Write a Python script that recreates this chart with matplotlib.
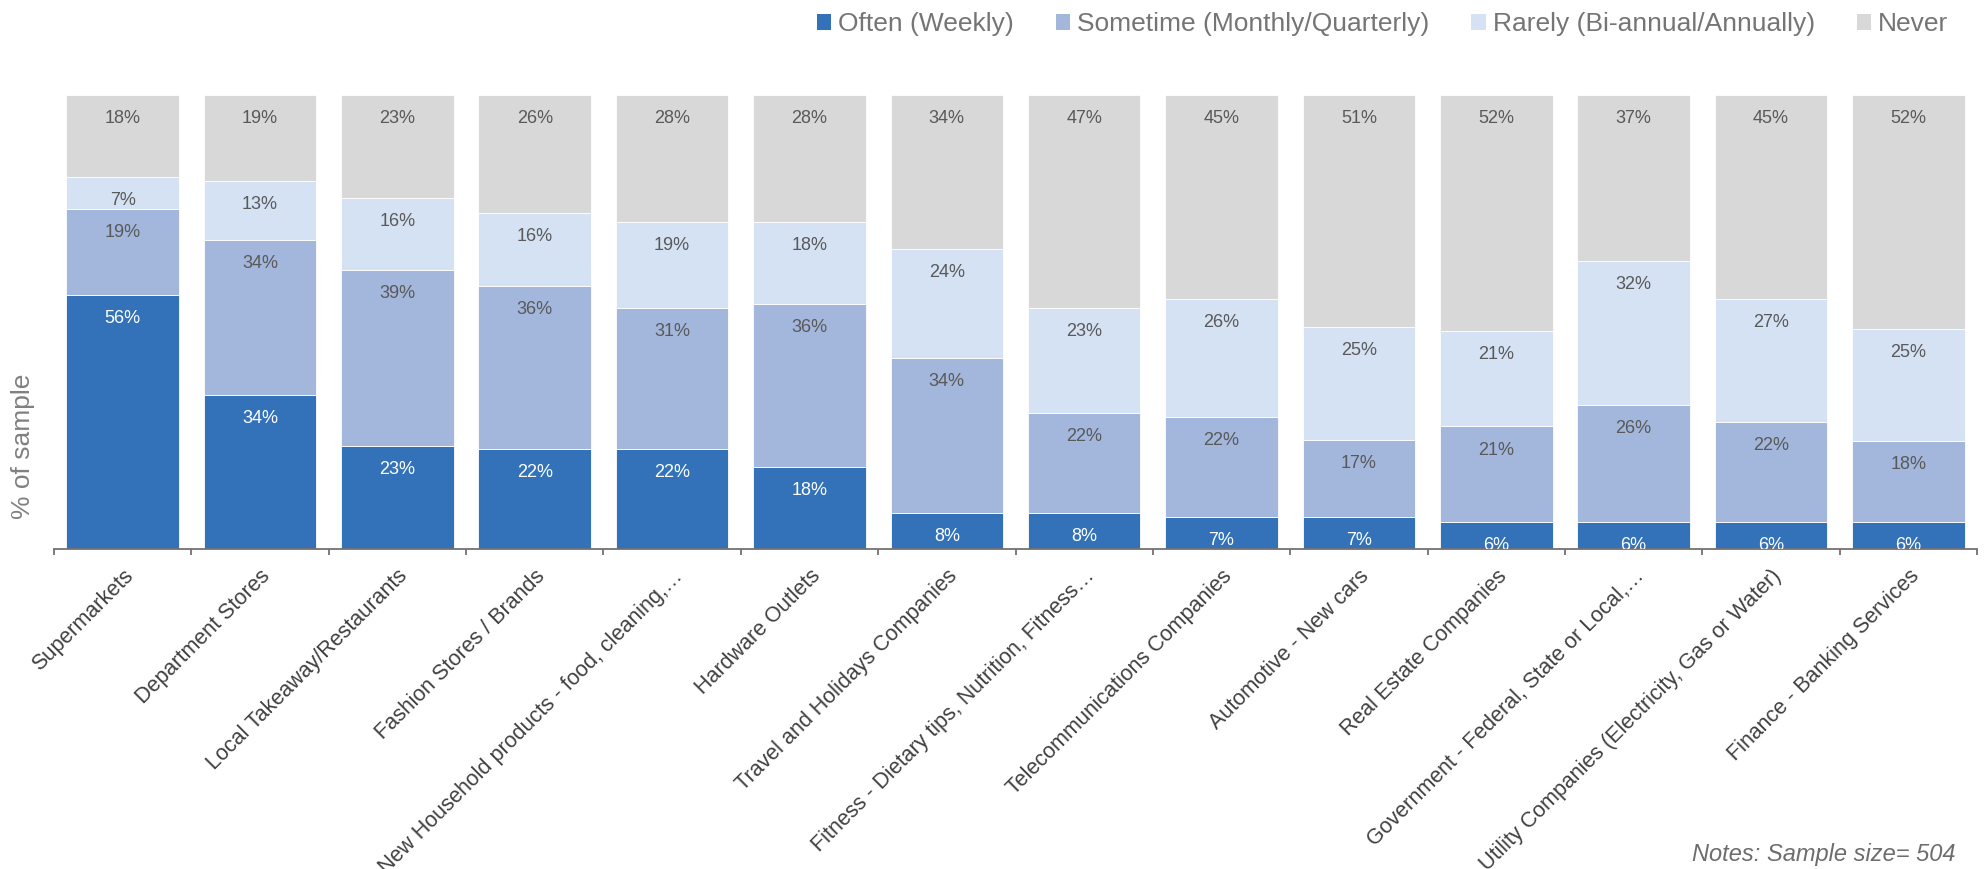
import numpy as np
import matplotlib.pyplot as plt
from matplotlib.transforms import offset_copy
from matplotlib.patches import Patch

plt.rcParams['font.family'] = ['Liberation Sans', 'DejaVu Sans']

cats = ['Supermarkets', 'Department Stores', 'Local Takeaway/Restaurants',
        'Fashion Stores / Brands', 'New Household products - food, cleaning,\u2026',
        'Hardware Outlets', 'Travel and Holidays Companies',
        'Fitness - Dietary tips, Nutrition, Fitness\u2026',
        'Telecommunications Companies', 'Automotive - New cars',
        'Real Estate Companies', 'Government - Federal, State or Local,\u2026',
        'Utility Companies (Electricity, Gas or Water)', 'Finance - Banking Services']

often = [56, 34, 23, 22, 22, 18, 8, 8, 7, 7, 6, 6, 6, 6]
sometime = [19, 34, 39, 36, 31, 36, 34, 22, 22, 17, 21, 26, 22, 18]
rarely = [7, 13, 16, 16, 19, 18, 24, 23, 26, 25, 21, 32, 27, 25]
never = [18, 19, 23, 26, 28, 28, 34, 47, 45, 51, 52, 37, 45, 52]

names = ['Often (Weekly)', 'Sometime (Monthly/Quarterly)',
         'Rarely (Bi-annual/Annually)', 'Never']
colors = ['#3372b8', '#a3b6dc', '#d5e2f3', '#d8d8d8']
txt_colors = ['white', '#595959', '#595959', '#595959']

fig = plt.figure(figsize=(19.84, 8.69), dpi=100)
ax = fig.add_axes([54/1984, 320/869, (1977-54)/1984, 454/869])

x = np.arange(len(cats))
totals = np.array(often) + np.array(sometime) + np.array(rarely) + np.array(never)
# labels sit a bit below the top of each segment (inside end)
lbl_tr = offset_copy(ax.transData, fig=fig, y=-17, units='points')

bottom = np.zeros(len(cats))
for vals, col, tcol in zip([often, sometime, rarely, never], colors, txt_colors):
    vals = np.array(vals, float)
    h = vals / totals * 100
    ax.bar(x, h, 0.82, bottom=bottom, color=col, edgecolor='white', linewidth=0.6)
    top = bottom + h
    for xi, yi, v in zip(x, top, vals):
        ax.text(xi, yi, '%d%%' % v, transform=lbl_tr, ha='center', va='center',
                fontsize=13, color=tcol, clip_on=True)
    bottom = top

ax.set_xlim(-0.5, len(cats) - 0.5)
ax.set_ylim(0, 100)
for s in ['left', 'right', 'top']:
    ax.spines[s].set_visible(False)
ax.spines['bottom'].set_color('#767171')
ax.spines['bottom'].set_linewidth(1.3)
ax.set_yticks([])

ax.set_xticks(x)
ax.set_xticklabels(cats, rotation=45, ha='right', va='top', rotation_mode='anchor',
                   fontsize=15.5, color='#404040')
ax.set_xticks(np.arange(len(cats) + 1) - 0.5, minor=True)
ax.tick_params(axis='x', which='major', length=0, pad=12)
ax.tick_params(axis='x', which='minor', length=4, width=1.3, color='#767171', direction='out')

fig.text(23/1984, 1 - 446/869, '% of sample', rotation=90, ha='center', va='center',
         fontsize=19, color='#808080')
fig.text(1955/1984, 1 - 854/869, 'Notes: Sample size= 504', ha='right', va='center',
         fontsize=17, color='#6d6d6d', style='italic')

handles = [Patch(facecolor=c, edgecolor='none') for c in colors]
fig.legend(handles, names, loc='center right', bbox_to_anchor=(1972/1984, 1 - 24/869),
           ncol=4, frameon=False, fontsize=19, handlelength=0.55, handleheight=0.55,
           handletextpad=0.25, columnspacing=1.6, labelcolor='#757575')

fig.savefig('out.png', dpi=100)
